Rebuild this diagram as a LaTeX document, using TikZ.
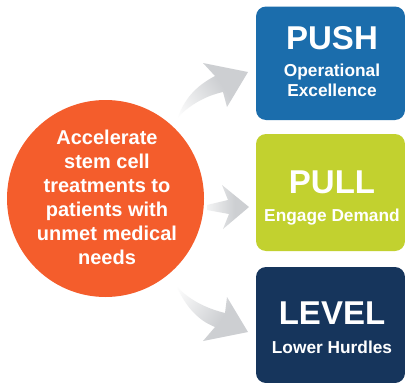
\documentclass[tikz,border=0pt]{standalone}
\usepackage{fontspec}
\setmainfont{Liberation Sans}[BoldFont={* Bold}]
\definecolor{pushc}{HTML}{1B6DAC}
\definecolor{pullc}{HTML}{C2D12F}
\definecolor{levelc}{HTML}{16355C}
\definecolor{goalc}{HTML}{F45D2C}
\definecolor{arrowc}{HTML}{CDCFD2}
\pgfdeclarehorizontalshading{flowgrad}{100bp}{color(0bp)=(white); color(14bp)=(white); color(58bp)=(arrowc); color(100bp)=(arrowc)}
\newcommand{\bigT}[1]{{\fontsize{33}{20}\selectfont #1}}
\tikzset{
  pillar/.style={rounded corners=10pt,inner sep=0pt,minimum width=149pt},
  pillartext/.style={inner sep=0pt,text=white,align=center,font=\bfseries\fontsize{17.3}{20}\selectfont},
  goal/.style={circle,fill=goalc,inner sep=0pt,minimum size=197pt},
  goaltext/.style={inner sep=0pt,text=white,align=center,font=\bfseries\fontsize{20}{24}\selectfont},
  flow/.style={shading=flowgrad,draw=none}
}
\begin{document}
\begin{tikzpicture}[x=1pt,y=-1pt]
\useasboundingbox (0,0) rectangle (405,383);
\fill[white] (0,0) rectangle (405,383);
\node[goal] (g) at (105.5,198.5) {};
\node[goaltext] (gt) at (107,197.5) {Accelerate\\stem cell\\treatments to\\patients with\\unmet medical\\needs};
\node[pillar,fill=pushc,minimum height=113.5pt] (push) at (330.5,63.25) {};
\node[pillartext] (pusht) at (332,61.5) {\bigT{PUSH}\\[6.5pt]Operational\\Excellence};
\node[pillar,fill=pullc,minimum height=117pt] (pull) at (330.5,192.5) {};
\node[pillartext] (pullt) at (332,197.5) {\bigT{PULL}\\[8pt]Engage Demand};
\node[pillar,fill=levelc,minimum height=116pt] (level) at (330.5,325) {};
\node[pillartext] (levelt) at (332,328) {\bigT{LEVEL}\\[9pt]Lower Hurdles};
\path[flow,shading angle=35] (178,117) .. controls (186,95) and (200,84) .. (215,76) -- (203,63) -- (248,72) -- (227,107) -- (223,92) .. controls (205,96) and (190,105) .. cycle;
\path[flow] (207,205) -- (228,200) -- (222,185) -- (249,207) -- (223,229) -- (229,214) -- (207,210) -- cycle;
\path[flow,shading angle=-35] (177,287) .. controls (190,300) and (205,308) .. (225,313) -- (227,297) -- (248,332) -- (203,341) -- (215,327) .. controls (197,320) and (185,305) .. cycle;
\end{tikzpicture}
\end{document}
